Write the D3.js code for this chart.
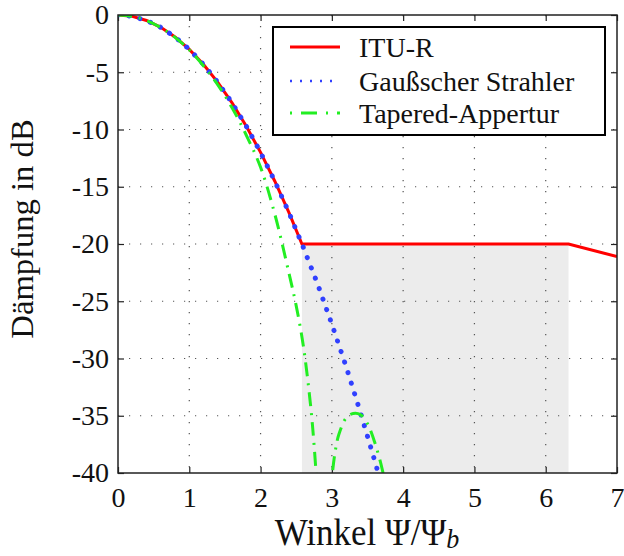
<!DOCTYPE html>
<html><head><meta charset="utf-8">
<script src="https://cdn.jsdelivr.net/npm/d3@7"></script>
<style>body{margin:0;background:#fff}svg{display:block}</style>
</head><body>
<svg id="c" width="624" height="556"></svg>
<script>
// ---- data ----
const ituX = [0,0.2,0.4,0.6,0.8,1.0,1.2,1.4,1.6,1.8,2.0,2.2,2.4,2.58,6.32,7.0];
const ituY = [0,-0.12,-0.48,-1.08,-1.92,-3.0,-4.32,-5.88,-7.68,-9.72,-12.0,-14.52,-17.28,-20,-20,-21.1];
const gaussX = [0,0.2,0.4,0.6,0.8,1.0,1.2,1.4,1.6,1.8,2.0,2.2,2.4,2.6,2.8,3.0,3.2,3.4,3.6,3.7];
const gaussY = [0,-0.12,-0.48,-1.08,-1.92,-3.0,-4.32,-5.88,-7.68,-9.72,-12.0,-14.52,-17.28,-20.3,-23.5,-27.0,-30.7,-34.7,-38.9,-41.1];
const taperX1 = [0,0.2,0.4,0.6,0.8,1.0,1.2,1.4,1.6,1.8,2.0,2.2,2.4,2.5,2.6,2.7,2.75,2.8];
const taperY1 = [0,-0.12,-0.48,-1.1,-1.95,-3.05,-4.45,-6.1,-8.1,-10.5,-13.3,-17.4,-22.6,-25.4,-28.9,-34.0,-37.5,-42];
const taperX2 = [2.95,3.0,3.05,3.1,3.2,3.3,3.4,3.5,3.6,3.7,3.75];
const taperY2 = [-45,-40.5,-38,-36.6,-35.2,-34.8,-34.9,-35.7,-37.3,-39.5,-41];
const shadeX = [2.58, 6.32];
const shadeY = [-20, -40];
const xTicks = [0,1,2,3,4,5,6,7];
const yTicks = [0,-5,-10,-15,-20,-25,-30,-35,-40];
const legendLabels = ["ITU-R","Gaußscher Strahler","Tapered-Appertur"];
const colors = ["#ff0000","#3040ff","#22ee22"];

const svg = d3.select("#c");
const L=118, R=617, T=15, B=473;
const x = d3.scaleLinear().domain([0,7]).range([L,R]);
const y = d3.scaleLinear().domain([-40,0]).range([B,T]);
const font = "'Liberation Serif','Times New Roman',serif";

svg.append("defs").append("clipPath").attr("id","clip")
  .append("rect").attr("x",L).attr("y",T).attr("width",R-L).attr("height",B-T);

// shaded region
svg.append("rect").attr("x",x(shadeX[0])).attr("y",y(shadeY[0]))
  .attr("width",x(shadeX[1])-x(shadeX[0])).attr("height",y(shadeY[1])-y(shadeY[0]))
  .attr("fill","#ececec");

// grid
const g = svg.append("g");
g.selectAll(".gx").data(xTicks.slice(1,-1)).enter().append("line")
  .attr("x1",d=>x(d)).attr("x2",d=>x(d)).attr("y1",T).attr("y2",B)
  .attr("stroke","#555").attr("stroke-width",1.2).attr("stroke-dasharray","1.2 9.8");
g.selectAll(".gy").data(yTicks.slice(1,-1)).enter().append("line")
  .attr("y1",d=>y(d)).attr("y2",d=>y(d)).attr("x1",L).attr("x2",R)
  .attr("stroke","#555").attr("stroke-width",1.2).attr("stroke-dasharray","1.2 9.8");

// axes
const ax = svg.append("g").attr("transform",`translate(0,${B})`)
  .call(d3.axisBottom(x).tickValues(xTicks).tickSize(-6).tickPadding(14).tickFormat(d3.format("d")));
const ay = svg.append("g").attr("transform",`translate(${L},0)`)
  .call(d3.axisLeft(y).tickValues(yTicks).tickSize(-6).tickPadding(9).tickFormat(d=>d===0?"0":String(d)));
const at = svg.append("g").attr("transform",`translate(0,${T})`)
  .call(d3.axisTop(x).tickValues(xTicks).tickSize(-6).tickFormat(""));
const ar = svg.append("g").attr("transform",`translate(${R},0)`)
  .call(d3.axisRight(y).tickValues(yTicks).tickSize(-6).tickFormat(""));
[ax,ay,at,ar].forEach(a=>{
  a.select(".domain").remove();
  a.selectAll("line").attr("stroke","#222").attr("stroke-width",1.2);
  a.selectAll("text").attr("font-family",font).attr("font-size",28).attr("fill","#111");
});
ax.selectAll("text").attr("dy","0.71em");

// lines
const line = d3.line().x(d=>x(d[0])).y(d=>y(d[1]));
const lines = svg.append("g").attr("clip-path","url(#clip)");
lines.append("path").datum(ituX.map((v,i)=>[v,ituY[i]])).attr("d",line)
  .attr("fill","none").attr("stroke",colors[0]).attr("stroke-width",3);
lines.append("path").datum(gaussX.map((v,i)=>[v,gaussY[i]])).attr("d",line)
  .attr("fill","none").attr("stroke",colors[1]).attr("stroke-width",5)
  .attr("stroke-linecap","round").attr("stroke-dasharray","0.1 11");
const lineC = d3.line().x(d=>x(d[0])).y(d=>y(d[1])).curve(d3.curveCatmullRom);
[[taperX1,taperY1],[taperX2,taperY2]].forEach(([xs,ys])=>{
  lines.append("path").datum(xs.map((v,i)=>[v,ys[i]])).attr("d",lineC)
    .attr("fill","none").attr("stroke",colors[2]).attr("stroke-width",3)
    .attr("stroke-dasharray","14 7 2 7");
});

// box
svg.append("rect").attr("x",L).attr("y",T).attr("width",R-L).attr("height",B-T)
  .attr("fill","none").attr("stroke","#222").attr("stroke-width",1.5);

// legend
const lg = svg.append("g");
lg.append("rect").attr("x",273).attr("y",27).attr("width",332).attr("height",108)
  .attr("fill","#fff").attr("stroke","#000").attr("stroke-width",2);
const rowsY=[47,81,113];
legendLabels.forEach((t,i)=>{
  const l = lg.append("line").attr("x1",290).attr("x2",340).attr("y1",rowsY[i]).attr("y2",rowsY[i])
    .attr("stroke",colors[i]).attr("stroke-width",3);
  if(i===1) l.attr("stroke-dasharray","2 8").attr("stroke-width",2.5);
  if(i===2) l.attr("stroke-dasharray","2 9 16 9");
  lg.append("text").attr("x",359).attr("y",rowsY[i]).attr("dy","0.35em")
    .attr("font-family",font).attr("font-size",28).attr("fill","#111").text(t);
});

// axis labels
const xl = svg.append("text").attr("transform","translate(367,545) scale(1,1.07)").attr("text-anchor","middle")
  .attr("font-family",font).attr("font-size",35).attr("fill","#111");
xl.append("tspan").text("Winkel Ψ/Ψ");
xl.append("tspan").attr("font-style","italic").attr("font-size",26).attr("dy",3).text("b");
svg.append("text").attr("transform","translate(33,229) scale(1.0,1.07) rotate(-90)").attr("text-anchor","middle")
  .attr("font-family",font).attr("font-size",30.5).attr("fill","#111").text("Dämpfung in dB");
</script>
</body></html>
